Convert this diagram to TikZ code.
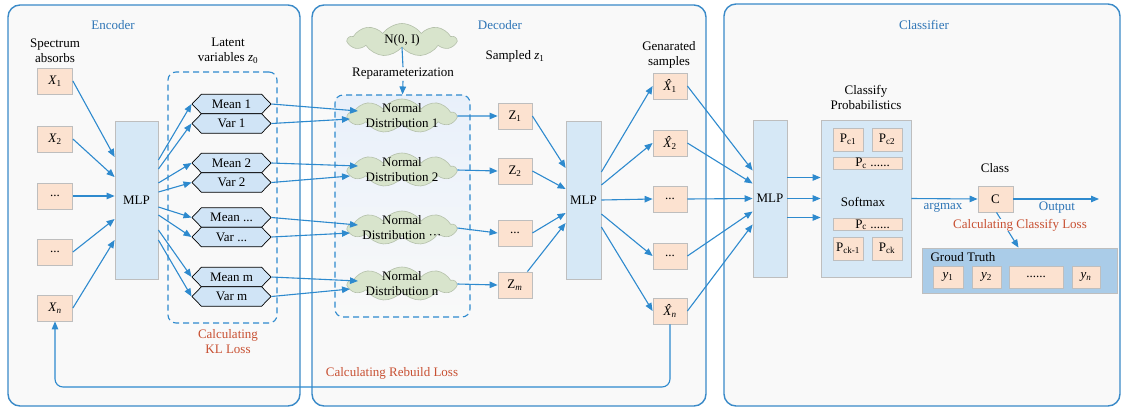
\documentclass[tikz,border=0pt]{standalone}
\usepackage{fontspec}
\setmainfont{Liberation Serif}
\usetikzlibrary{arrows.meta,shapes.symbols,shapes.geometric}
\definecolor{panelc}{RGB}{58,138,200}
\definecolor{panelfill}{RGB}{249,249,249}
\definecolor{arrc}{RGB}{46,138,206}
\definecolor{orangef}{RGB}{252,226,208}
\definecolor{boxline}{RGB}{190,190,190}
\definecolor{mlpf}{RGB}{214,232,246}
\definecolor{hexf}{RGB}{208,228,246}
\definecolor{cloudf}{RGB}{216,228,204}
\definecolor{cloudline}{RGB}{180,192,170}
\definecolor{gtf}{RGB}{170,204,232}
\definecolor{redt}{RGB}{200,80,50}
\definecolor{bluet}{RGB}{46,117,182}
\definecolor{shadeb}{RGB}{232,240,250}
\newcommand{\xhat}{\textit{\accent"02C6 X}}
\begin{document}
\begin{tikzpicture}[x=1pt,y=-1pt,
  every node/.append style={font=\fontsize{13}{15}\selectfont},
  panel/.style={draw=panelc, line width=1.4pt, fill=panelfill, rounded corners=12pt},
  txt/.style={align=center, inner sep=0pt},
  ttl/.style={text=bluet, inner sep=0pt},
  redtxt/.style={text=redt, align=center, inner sep=0pt},
  ob/.style={draw=boxline, fill=orangef, line width=0.8pt, minimum width=35pt, minimum height=26pt, inner sep=0pt},
  mlpbox/.style={draw=boxline, fill=mlpf, line width=0.8pt, inner sep=0pt},
  hexa/.style={signal, signal to=west and east, signal pointer angle=92, draw=black, fill=hexf, line width=0.7pt, minimum width=79pt, minimum height=19.5pt, inner sep=0pt},
  cloudy/.style={cloud, cloud puffs=9, cloud puff arc=110, cloud ignores aspect, draw=cloudline, fill=cloudf, line width=0.6pt, minimum width=108pt, minimum height=34pt, inner sep=0pt},
  arr/.style={draw=arrc, line width=1.1pt, -{Triangle[length=8pt,width=6.5pt]}},
  plain/.style={draw=arrc, line width=1.1pt},
  dbox/.style={draw=arrc, dash pattern=on 6pt off 4pt, line width=1.1pt, rounded corners=8pt, inner sep=0pt},
  pbox/.style={draw=boxline, fill=orangef, line width=0.8pt, inner sep=0pt, minimum height=23pt}
]
\useasboundingbox (0,0) rectangle (1122,408);
\fill[white] (0,0) rectangle (1122,408);

% panels
\draw[panel] (8,5) rectangle (300,406);
\draw[panel] (312,5) rectangle (706,406);
\draw[panel] (724,4) rectangle (1120,406);

% ===== Encoder =====
\node[ttl] (enct) at (113,25) {Encoder};
\node[txt] (spec) at (55,51) {Spectrum\\absorbs};
\node[ob] (x1) at (55,81) {\textit{X}\textsubscript{1}};
\node[ob] (x2) at (55,139) {\textit{X}\textsubscript{2}};
\node[ob] (x3) at (55,196) {...};
\node[ob] (x4) at (55,252) {...};
\node[ob] (xn) at (55,308) {\textit{X}\textsubscript{\textit{n}}};
\node[mlpbox, minimum width=43pt, minimum height=158pt] (m1) at (136.5,200) {MLP};
\node[txt] (lat) at (228,51) {Latent\\variables \textit{z}\textsubscript{0}};
\node[dbox, minimum width=109pt, minimum height=251pt] (latbox) at (222.5,197.5) {};
\node[hexa] (mean1) at (231.5,104) {Mean 1};
\node[hexa] (var1) at (231.5,123.5) {Var 1};
\node[hexa] (mean2) at (231.5,163) {Mean 2};
\node[hexa] (var2) at (231.5,182.5) {Var 2};
\node[hexa] (mean3) at (231.5,217.5) {Mean ...};
\node[hexa] (var3) at (231.5,237) {Var ...};
\node[hexa] (mean4) at (231.5,277) {Mean m};
\node[hexa] (var4) at (231.5,296.5) {Var m};
\node[redtxt] (kl) at (228,342) {Calculating\\KL Loss};

% ===== Decoder =====
\node[ttl] (dect) at (500,25) {Decoder};
\node[cloudy, minimum height=33pt] (nc) at (402,40) {};
\node[txt] (nct) at (402,40) {N(0, I)};
\node[txt, fill=panelfill, inner sep=1pt] (rep) at (403,74) {Reparameterization};
\node[dbox, minimum width=135pt, minimum height=222pt, top color=shadeb, middle color=panelfill, bottom color=panelfill] (dd) at (402.5,206) {};
\node[cloudy] (c1) at (402,116) {};
\node[txt] (c1t) at (402,116) {Normal\\Distribution 1};
\node[cloudy] (c2) at (402,170) {};
\node[txt] (c2t) at (402,170) {Normal\\Distribution 2};
\node[cloudy] (c3) at (402,228) {};
\node[txt] (c3t) at (402,228) {Normal\\Distribution ···};
\node[cloudy] (c4) at (402,284) {};
\node[txt] (c4t) at (402,284) {Normal\\Distribution n};
\node[txt] (samp) at (515,56) {Sampled \textit{z}\textsubscript{1}};
\node[ob, minimum width=34pt] (z1) at (515,116) {Z\textsubscript{1}};
\node[ob, minimum width=34pt] (z2) at (515,171) {Z\textsubscript{2}};
\node[ob, minimum width=34pt] (z3) at (515,233) {...};
\node[ob, minimum width=34pt] (z4) at (515,285) {Z\textsubscript{\textit{m}}};
\node[mlpbox, minimum width=35pt, minimum height=158pt] (m2) at (583.5,200) {MLP};
\node[txt] (gen) at (669,55) {Genarated\\samples};
\node[ob, minimum width=34pt] (xh1) at (670,86) {\xhat\textsubscript{1}};
\node[ob, minimum width=34pt] (xh2) at (670,143) {\xhat\textsubscript{2}};
\node[ob, minimum width=34pt] (xh3) at (670,199) {...};
\node[ob, minimum width=34pt] (xh4) at (670,256) {...};
\node[ob, minimum width=34pt] (xhn) at (670,311) {\xhat\textsubscript{\textit{n}}};
\node[redtxt] (rebuild) at (392,373) {Calculating Rebuild Loss};
\coordinate (fb) at (55,387);

% ===== Classifier =====
\node[ttl] (clt) at (924,25) {Classifier};
\node[mlpbox, minimum width=34pt, minimum height=157pt] (m3) at (770,198.5) {MLP};
\node[txt] (cpl) at (866,97) {Classify\\Probabilistics};
\node[mlpbox, minimum width=90pt, minimum height=157pt] (pb) at (866,198.5) {};
\node[pbox, minimum width=30pt] (pc1) at (848,139.5) {P\textsubscript{c1}};
\node[pbox, minimum width=30pt] (pc2) at (887,139.5) {P\textsubscript{c2}};
\node[pbox, minimum width=69pt, minimum height=12pt, text height=9pt, text depth=2pt] (pcw1) at (867.5,163) {\hspace*{10pt}P\textsubscript{c} ......};
\node[txt] (soft) at (863,202) {Softmax};
\node[pbox, minimum width=69pt, minimum height=12pt, text height=9pt, text depth=2pt] (pcw2) at (867.5,224.5) {\hspace*{10pt}P\textsubscript{c} ......};
\node[pbox, minimum width=30pt] (pck1) at (848,248.5) {P\textsubscript{ck-1}};
\node[pbox, minimum width=30pt] (pck) at (887,248.5) {P\textsubscript{ck}};
\node[ob] (cc) at (995.5,199) {C};
\node[txt] (cls) at (995,168) {Class};
\coordinate (out) at (1099,199);
\node[ttl] (argm) at (943,208) {argmax};
\node[ttl] (outl) at (1057,208) {Output};
\node[draw=boxline, fill=gtf, line width=0.8pt, minimum width=195pt, minimum height=45pt, inner sep=0pt] (gt) at (1019.5,270.5) {};
\node[txt] (gtl) at (963,257) {Groud Truth};
\node[pbox, minimum width=30pt, minimum height=22pt] (y1) at (948,277) {\textit{y}\textsubscript{1}};
\node[pbox, minimum width=29pt, minimum height=22pt] (y2) at (986.5,277) {\textit{y}\textsubscript{2}};
\node[pbox, minimum width=54pt, minimum height=22pt] (yd) at (1036,277) {......};
\node[pbox, minimum width=28pt, minimum height=22pt] (yn) at (1086,277) {\textit{y}\textsubscript{\textit{n}}};

% ===== connectors =====
% X -> MLP1
\draw[arr] (x1.east) -- ([yshift=43pt]m1.west);
\draw[arr] (x2.east) -- ([yshift=23pt]m1.west);
\draw[arr] (x3.east) -- ([yshift=4pt]m1.west);
\draw[arr] (x4.east) -- ([yshift=-19pt]m1.west);
\draw[arr] (xn.east) -- ([yshift=-40pt]m1.west);
% MLP1 -> hexagons
\draw[arr] ([yshift=40pt]m1.east) -- (mean1.west);
\draw[arr] ([yshift=31pt]m1.east) -- (var1.west);
\draw[arr] ([yshift=17pt]m1.east) -- (mean2.west);
\draw[arr] ([yshift=8pt]m1.east) -- (var2.west);
\draw[arr] ([yshift=-7pt]m1.east) -- (mean3.west);
\draw[arr] ([yshift=-15pt]m1.east) -- (var3.west);
\draw[arr] ([yshift=-30pt]m1.east) -- (mean4.west);
\draw[arr] ([yshift=-40pt]m1.east) -- (var4.west);
% hexagons -> clouds
\draw[arr] (mean1.east) -- ([xshift=-44pt,yshift=5pt]c1.center);
\draw[arr] (var1.east) -- ([xshift=-52pt,yshift=-3pt]c1.center);
\draw[arr] (mean2.east) -- ([xshift=-44pt,yshift=4pt]c2.center);
\draw[arr] (var2.east) -- ([xshift=-52pt,yshift=-6pt]c2.center);
\draw[arr] (mean3.east) -- ([xshift=-44pt,yshift=3pt]c3.center);
\draw[arr] (var3.east) -- ([xshift=-52pt,yshift=-5pt]c3.center);
\draw[arr] (mean4.east) -- ([xshift=-44pt,yshift=3pt]c4.center);
\draw[arr] (var4.east) -- ([xshift=-52pt,yshift=-5pt]c4.center);
% N(0,I) -> dashed box
\draw[plain] (nc.south) -- (rep.north);
\draw[arr] (rep.south) -- (dd.north);
% clouds -> Z
\draw[arr] (c1.east) -- (z1.west);
\draw[arr] (c2.east) -- (z2.west);
\draw[arr] (c3.east) -- (z3.west);
\draw[arr] (c4.east) -- (z4.west);
% Z -> MLP2
\draw[arr] (z1.east) -- ([yshift=32pt]m2.west);
\draw[arr] (z2.east) -- ([yshift=11pt]m2.west);
\draw[arr] (z3.east) -- ([yshift=-13pt]m2.west);
\draw[arr] ([xshift=-5pt]z4.north east) -- ([yshift=-23pt]m2.west);
% MLP2 -> Xhat
\draw[arr] ([yshift=28pt]m2.east) -- (xh1.west);
\draw[arr] ([yshift=15pt]m2.east) -- (xh2.west);
\draw[arr] (m2.east) -- (xh3.west);
\draw[arr] ([yshift=-14pt]m2.east) -- (xh4.west);
\draw[arr] ([yshift=-27pt]m2.east) -- (xhn.west);
% feedback
\draw[arr, rounded corners=8pt] (xhn.south) |- (fb) -- (xn.south);
% Xhat -> MLP3
\draw[arr] (xh1.east) -- ([yshift=28pt]m3.west);
\draw[arr] (xh2.east) -- ([yshift=15pt]m3.west);
\draw[arr] (xh3.east) -- (m3.west);
\draw[arr] (xh4.east) -- ([yshift=-13pt]m3.west);
\draw[arr] (xhn.east) -- ([yshift=-26pt]m3.west);
% MLP3 -> probs
\draw[arr] ([yshift=21pt]m3.east) -- ([yshift=21pt]pb.west);
\draw[arr] (m3.east) -- (pb.west);
\draw[arr] ([yshift=-19pt]m3.east) -- ([yshift=-19pt]pb.west);
% probs -> C -> output
\draw[arr] (pb.east) -- (cc.west);
\draw[arr] (cc.east) -- (out);
\draw[arr] ([xshift=1pt]cc.south) -- ([xshift=-1pt]gt.north);
\node[redtxt, fill=panelfill, inner sep=0.5pt] (cl) at (1020,225) {Calculating Classify Loss};
\end{tikzpicture}
\end{document}
